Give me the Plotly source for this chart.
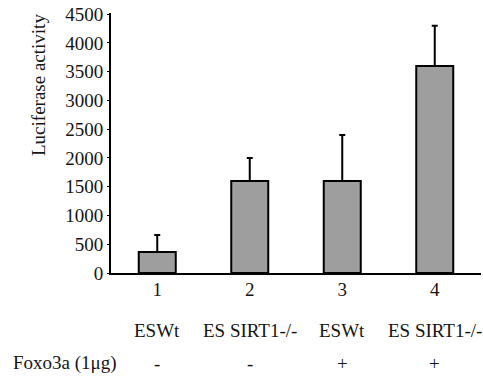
import plotly.graph_objects as go

categories = ["1", "2", "3", "4"]
values = [365, 1600, 1600, 3600]
errors = [295, 400, 800, 700]
cell_types = ["ESWt", "ES SIRT1-/-", "ESWt", "ES SIRT1-/-"]
foxo_signs = ["-", "-", "+", "+"]
y_ticks = [0, 500, 1000, 1500, 2000, 2500, 3000, 3500, 4000, 4500]

FONT = "Liberation Serif"
FS = 19
TXT = "#151515"
W, H = 483, 383
L, R, T, B = 111, 2, 13, 110
plot_h = H - T - B
plot_w = W - L - R

fig = go.Figure()
fig.add_trace(go.Bar(
    x=list(range(len(categories))),
    y=values,
    marker=dict(color="#9e9e9e", line=dict(color="black", width=2)),
    error_y=dict(type="data", symmetric=False, array=errors,
                 arrayminus=[0] * len(errors), color="black",
                 thickness=2, width=3),
    width=0.4,
))

def py(px):
    return (H - B - px) / plot_h

def pxx(px):
    return (px - L) / plot_w

annotations = []
for i, (ct, sg) in enumerate(zip(cell_types, foxo_signs)):
    annotations.append(dict(x=i, y=py(330), xref="x", yref="paper", text=ct,
                            showarrow=False, xanchor="center", yanchor="middle",
                            font=dict(family=FONT, size=FS, color=TXT)))
    annotations.append(dict(x=i, y=py(363), xref="x", yref="paper", text=sg,
                            showarrow=False, xanchor="center", yanchor="middle",
                            font=dict(family=FONT, size=FS, color=TXT)))
annotations.append(dict(x=pxx(11), y=py(363), xref="paper", yref="paper",
                        text="Foxo3a (1μg)", showarrow=False, xanchor="left",
                        yanchor="middle", font=dict(family=FONT, size=FS, color=TXT)))
annotations.append(dict(x=pxx(38), y=py(85), xref="paper", yref="paper",
                        text="Luciferase activity", showarrow=False, textangle=-90,
                        xanchor="center", yanchor="middle",
                        font=dict(family=FONT, size=FS, color=TXT)))

fig.update_layout(
    width=W, height=H,
    margin=dict(l=L, r=R, t=T, b=B, pad=0),
    paper_bgcolor="white", plot_bgcolor="white",
    showlegend=False,
    font=dict(family=FONT, size=FS, color=TXT),
    annotations=annotations,
    xaxis=dict(range=[-0.5, 3.5], tickmode="array",
               tickvals=list(range(len(categories))), ticktext=categories,
               showline=True, linecolor="black", linewidth=2,
               showgrid=False, zeroline=False, ticks="", ticklabelstandoff=-2,
               tickfont=dict(family=FONT, size=FS, color=TXT),
               fixedrange=True),
    yaxis=dict(range=[0, 4520], tickmode="array", tickvals=y_ticks,
               ticktext=[str(v) for v in y_ticks],
               showline=True, linecolor="black", linewidth=2,
               showgrid=False, zeroline=False, ticks="outside", ticklen=2,
               tickwidth=1, tickcolor="black",
               tickfont=dict(family=FONT, size=FS, color=TXT),
               fixedrange=True),
)

fig.write_html("out.html")
